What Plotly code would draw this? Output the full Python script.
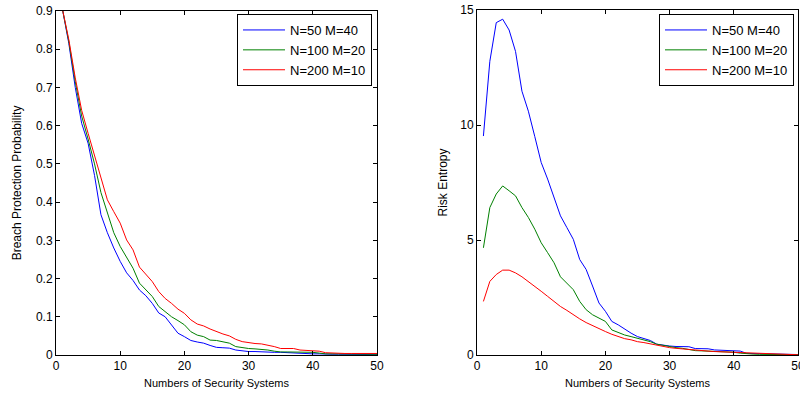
import plotly.graph_objects as go

x = list(range(1, 51))

# Breach protection probability (left)
bp_50 = [0.905, 0.815, 0.70, 0.606, 0.554, 0.47, 0.367, 0.32, 0.28, 0.245,
         0.215, 0.195, 0.17, 0.155, 0.135, 0.11, 0.10, 0.078, 0.057, 0.048,
         0.038, 0.034, 0.031, 0.025, 0.02, 0.019, 0.018, 0.013, 0.011, 0.009,
         0.009, 0.008, 0.008, 0.007, 0.007, 0.006, 0.005, 0.004, 0.004, 0.003,
         0.003, 0.002, 0.002, 0.002, 0.002, 0.001, 0.001, 0.001, 0.001, 0.001]
bp_100 = [0.905, 0.82, 0.715, 0.625, 0.565, 0.50, 0.425, 0.37, 0.32, 0.284,
          0.255, 0.227, 0.188, 0.17, 0.153, 0.127, 0.113, 0.10, 0.09, 0.079,
          0.061, 0.052, 0.048, 0.039, 0.038, 0.034, 0.031, 0.022, 0.019, 0.017,
          0.016, 0.015, 0.013, 0.01, 0.008, 0.008, 0.008, 0.007, 0.007, 0.007,
          0.005, 0.003, 0.003, 0.003, 0.003, 0.002, 0.002, 0.002, 0.002, 0.002]
bp_200 = [0.905, 0.825, 0.725, 0.64, 0.58, 0.52, 0.46, 0.406, 0.375, 0.345,
          0.301, 0.275, 0.23, 0.21, 0.192, 0.166, 0.148, 0.135, 0.12, 0.109,
          0.092, 0.081, 0.076, 0.068, 0.061, 0.055, 0.05, 0.041, 0.035, 0.032,
          0.03, 0.029, 0.026, 0.022, 0.017, 0.017, 0.017, 0.013, 0.012, 0.012,
          0.01, 0.006, 0.005, 0.005, 0.004, 0.004, 0.004, 0.004, 0.004, 0.004]

# Risk entropy (right)
re_50 = [9.52, 12.77, 14.45, 14.6, 14.13, 13.2, 11.47, 10.6, 9.5, 8.37,
         7.65, 6.8, 6.05, 5.54, 5.03, 4.15, 3.72, 3.0, 2.26, 1.9,
         1.46, 1.31, 1.12, 0.95, 0.8, 0.73, 0.63, 0.47, 0.42, 0.39,
         0.37, 0.36, 0.36, 0.28, 0.27, 0.27, 0.22, 0.2, 0.18, 0.17,
         0.17, 0.07, 0.06, 0.05, 0.05, 0.04, 0.03, 0.02, 0.02, 0.02]
re_100 = [4.66, 6.41, 7.0, 7.35, 7.14, 6.92, 6.41, 5.98, 5.47, 4.88,
          4.45, 4.01, 3.4, 3.13, 2.84, 2.33, 1.97, 1.75, 1.6, 1.46,
          1.09, 0.98, 0.87, 0.8, 0.73, 0.66, 0.58, 0.47, 0.41, 0.36,
          0.32, 0.29, 0.24, 0.19, 0.18, 0.17, 0.15, 0.14, 0.13, 0.12,
          0.08, 0.05, 0.04, 0.03, 0.03, 0.02, 0.02, 0.01, 0.01, 0.01]
re_200 = [2.33, 3.2, 3.5, 3.69, 3.69, 3.57, 3.4, 3.2, 2.99, 2.77,
          2.55, 2.33, 2.11, 1.94, 1.75, 1.57, 1.41, 1.27, 1.14, 1.02,
          0.9, 0.8, 0.71, 0.66, 0.58, 0.54, 0.48, 0.41, 0.36, 0.32,
          0.29, 0.26, 0.23, 0.21, 0.19, 0.17, 0.15, 0.14, 0.13, 0.13,
          0.1, 0.08, 0.07, 0.06, 0.06, 0.05, 0.04, 0.03, 0.02, 0.01]

names = ["N=50 M=40", "N=100 M=20", "N=200 M=10"]
colors = ["#0000FF", "#008000", "#FF0000"]

fig = go.Figure()
for yv, nm, c in zip([bp_50, bp_100, bp_200], names, colors):
    fig.add_trace(go.Scatter(x=x, y=yv, mode="lines", name=nm,
                             line=dict(color=c, width=1), xaxis="x", yaxis="y",
                             legend="legend"))
for yv, nm, c in zip([re_50, re_100, re_200], names, colors):
    fig.add_trace(go.Scatter(x=x, y=yv, mode="lines", name=nm,
                             line=dict(color=c, width=1), xaxis="x2", yaxis="y2",
                             legend="legend2"))

W, H = 800, 394
FAM = "Liberation Sans, Arial, sans-serif"
tickfont = dict(family=FAM, size=12, color="#000000")
xtitlefont = dict(family=FAM, size=11, color="#000000")
ytitlefont = dict(family=FAM, size=12, color="#000000")
legfont = dict(family=FAM, size=13, color="#000000")
axcommon = dict(showgrid=False, zeroline=False, showline=True, linecolor="#000000",
                linewidth=1, mirror="ticks", ticks="inside", ticklen=4,
                tickcolor="#000000", tickfont=tickfont, automargin=False,
                ticklabeloverflow="allow")

fig.update_layout(
    width=W, height=H, margin=dict(l=0, r=0, t=0, b=0),
    paper_bgcolor="white", plot_bgcolor="white", font=tickfont,
    xaxis=dict(domain=[56 / W, 377 / W], range=[0, 50], dtick=10, anchor="y",
               title=dict(text="Numbers of Security Systems", font=xtitlefont, standoff=6),
               **axcommon),
    yaxis=dict(domain=[39 / H, 1 - 11 / H], range=[0, 0.9], dtick=0.1, anchor="x",
               title=dict(text="Breach Protection Probability", font=ytitlefont, standoff=11),
               **axcommon),
    xaxis2=dict(domain=[477 / W, 798 / W], range=[0, 50], dtick=10, anchor="y2",
                title=dict(text="Numbers of Security Systems", font=xtitlefont, standoff=6),
                **axcommon),
    yaxis2=dict(domain=[39 / H, 1 - 10 / H], range=[0, 15], dtick=5, anchor="x2",
                title=dict(text="Risk Entropy", font=ytitlefont, standoff=10),
                **axcommon),
    legend=dict(x=237 / W, xanchor="left", y=1 - 14 / H, yanchor="top",
                bgcolor="white", bordercolor="#000000", borderwidth=1,
                font=legfont, tracegroupgap=0, itemwidth=42),
    legend2=dict(x=659 / W, xanchor="left", y=1 - 14 / H, yanchor="top",
                 bgcolor="white", bordercolor="#000000", borderwidth=1,
                 font=legfont, tracegroupgap=0, itemwidth=42),
    showlegend=True,
)

fig.write_html("out.html", config={"displayModeBar": False},
               post_script="document.body.style.margin='0px';document.body.style.overflow='hidden';")
